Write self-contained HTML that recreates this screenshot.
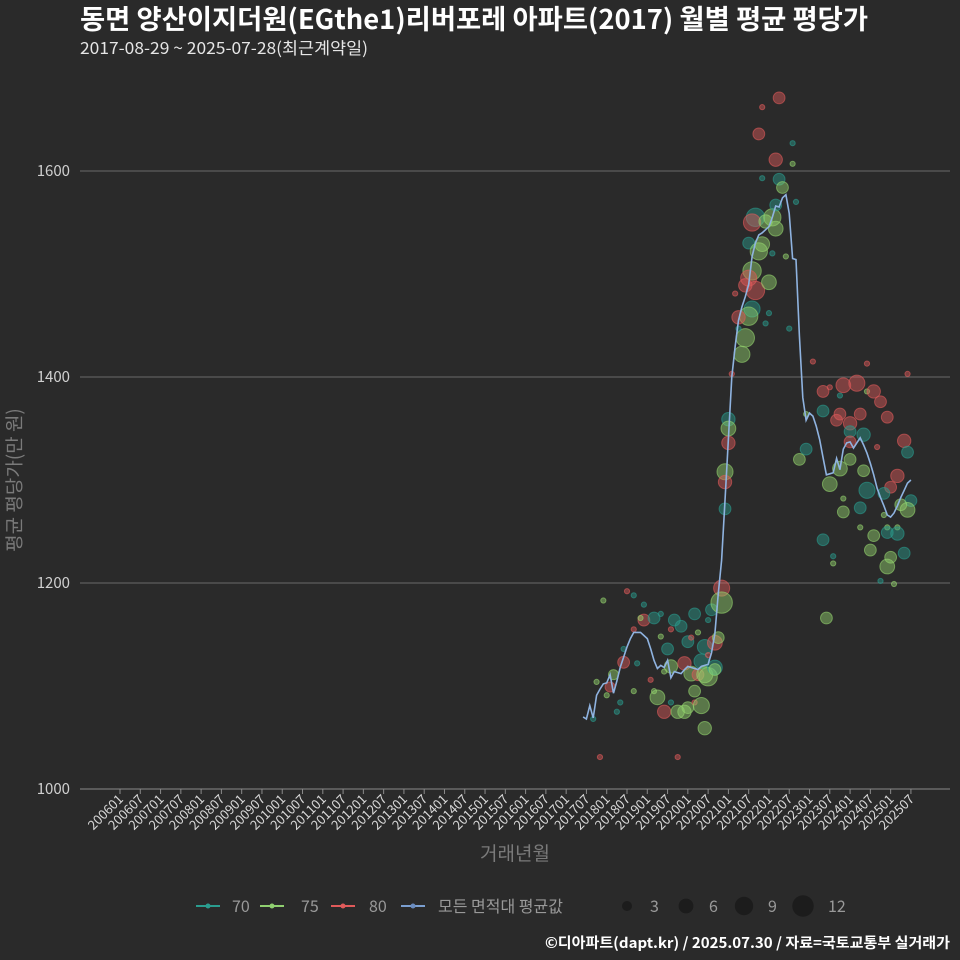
<!DOCTYPE html>
<html><head><meta charset="utf-8"><style>
html,body{margin:0;padding:0;background:#2a2a2a;}
svg{display:block;font-family:"Noto Sans CJK KR","Liberation Sans",sans-serif;}
</style></head><body>
<svg id="chart" width="960" height="960" viewBox="0 0 960 960">
<rect width="960" height="960" fill="#2a2a2a"/>
<text x="80" y="29" fill="#ffffff" font-size="27" font-weight="bold" textLength="788" lengthAdjust="spacingAndGlyphs">동면 양산이지더원(EGthe1)리버포레 아파트(2017) 월별 평균 평당가</text>
<text x="80" y="54" fill="#e6e6e6" font-size="16.5" textLength="288" lengthAdjust="spacingAndGlyphs">2017-08-29 ~ 2025-07-28(최근계약일)</text>
<g id="grid"></g>
<g id="xaxis"></g>
<g id="bubbles"></g>
<path id="avgline" fill="none" stroke="#8fb3e0" stroke-width="1.6"/>
<text x="0" y="0" transform="translate(21,480) rotate(-90)" text-anchor="middle" fill="#7a7a7a" font-size="19" text-rendering="geometricPrecision">평균 평당가(만 원)</text>
<text x="515" y="860" text-anchor="middle" fill="#7a7a7a" font-size="19">거래년월</text>
<g>
<g><line x1="196" y1="906" x2="220" y2="906" stroke="#2a9d8f" stroke-width="2"/><circle cx="208" cy="906" r="2.5" fill="#2a9d8f"/><text x="232" y="912" fill="#999" font-size="16">70</text></g>
<g><line x1="260" y1="906" x2="284" y2="906" stroke="#90d070" stroke-width="2"/><circle cx="272" cy="906" r="2.5" fill="#90d070"/><text x="301" y="912" fill="#999" font-size="16">75</text></g>
<g><line x1="331" y1="906" x2="355" y2="906" stroke="#e05a5a" stroke-width="2"/><circle cx="343" cy="906" r="2.5" fill="#e05a5a"/><text x="369" y="912" fill="#999" font-size="16">80</text></g>
<g><line x1="401" y1="906" x2="425" y2="906" stroke="#7b9fd0" stroke-width="2"/><circle cx="413" cy="906" r="2.5" fill="#6a8cc0"/><text x="438" y="912" fill="#999" font-size="16">모든 면적대 평균값</text></g>
<g><circle cx="627" cy="906" r="5" fill="#1c1c1c"/><text x="650" y="912" fill="#999" font-size="16">3</text></g>
<g><circle cx="686" cy="906" r="7.4" fill="#1c1c1c"/><text x="709" y="912" fill="#999" font-size="16">6</text></g>
<g><circle cx="744" cy="906" r="9.2" fill="#1c1c1c"/><text x="768" y="912" fill="#999" font-size="16">9</text></g>
<g><circle cx="803" cy="906" r="10.7" fill="#1c1c1c"/><text x="828" y="912" fill="#999" font-size="16">12</text></g>
</g>
<text x="950" y="948" text-anchor="end" fill="#ffffff" font-size="14.5" font-weight="bold" textLength="405" lengthAdjust="spacingAndGlyphs">©디아파트(dapt.kr) / 2025.07.30 / 자료=국토교통부 실거래가</text>
</svg>
<script>
const yTicks = [1000, 1200, 1400, 1600];
const xTickStart = 0; // months since 2006-01
const avgStartMonth = 137;
const avgValues = [1070,1068,1081,1069,1091,1097,1102,1103,1111,1093,1105,1118,1128,1138,1146,1152,1152,1152,1149,1146,1136,1125,1117,1120,1118,1125,1108,1114,1113,1112,1116,1119,1118,1117,1116,1119,1120,1121,1132,1151,1190,1222,1280,1340,1400,1430,1455,1468,1478,1490,1517,1530,1538,1540,1543,1546,1555,1566,1565,1574,1577,1559,1515,1514,1440,1380,1358,1365,1362,1352,1339,1322,1305,1306,1307,1321,1310,1330,1336,1337,1331,1336,1341,1334,1326,1316,1305,1292,1283,1275,1266,1264,1268,1275,1283,1290,1297,1300];
const bubbleMonths = [
142,143,141,140,145,146,144,147,148,149,
149,150,152,152,152,153,155,155,154,158,
160,160,157,158,159,162,161,163,163,164,
163,161,165,165,166,167,167,168,168,169,
170,171,169,170,170,172,173,172,171,173,
174,174,175,173,174,176,177,176,176,178,
178,209,211,227,225,229,195,190,189,199,
194,199,190,195,196,200,188,187,193,191,
194,194,186,190,189,187,186,188,192,185,
193,197,182,187,186,183,192,191,198,185,
184,183,181,205,221,233,180,180,180,179,
179,179,203,208,208,214,218,210,221,223,
225,227,213,212,219,216,216,220,216,213,
232,233,224,203,201,213,216,220,210,221,
230,228,226,234,233,231,219,214,214,226,
219,227,230,227,230,223,208,222,228,232,
211];
const bubbleValues = [
1031,1183,1104,1068,1099,1111,1091,1075,1084,1123,
1136,1192,1188,1155,1095,1122,1179,1164,1166,1166,
1170,1148,1106,1095,1089,1136,1075,1155,1084,1164,
1119,1114,1075,1031,1158,1122,1075,1079,1143,1147,
1170,1152,1112,1095,1084,1081,1138,1124,1111,1111,
1109,1164,1174,1059,1130,1142,1147,1118,1116,1195,
1181,1166,1219,1216,1202,1199,1671,1662,1636,1627,
1611,1607,1593,1592,1584,1570,1555,1550,1555,1551,
1544,1567,1530,1529,1522,1503,1496,1484,1492,1489,
1520,1517,1481,1466,1459,1458,1462,1452,1447,1438,
1422,1447,1403,1415,1413,1403,1359,1350,1336,1308,
1298,1272,1364,1367,1386,1392,1394,1390,1386,1386,
1376,1361,1364,1358,1364,1355,1347,1344,1337,1382,
1338,1327,1332,1330,1320,1311,1320,1309,1296,1290,
1304,1293,1287,1280,1271,1276,1273,1269,1282,1266,
1254,1254,1254,1249,1248,1246,1242,1232,1225,1229,
1226];
const bubbleCounts = [
1,1,1,1,3,3,1,1,1,4,
1,1,1,1,1,1,1,4,1,4,
1,1,1,1,6,4,5,1,1,4,
5,1,5,1,4,5,5,4,4,1,
4,1,6,4,1,7,6,6,4,7,
9,1,4,5,1,6,4,6,4,7,
12,4,1,6,1,1,4,1,4,1,
5,1,1,4,4,1,9,8,8,5,
6,4,4,6,8,9,7,9,6,5,
1,1,1,7,9,5,1,1,1,9,
7,1,1,1,1,1,5,6,5,7,
5,4,1,4,4,6,7,1,1,5,
4,4,4,4,4,5,4,5,4,1,
5,4,1,4,4,6,4,4,6,7,
5,4,4,4,6,4,4,4,1,1,
1,1,1,4,5,4,4,4,4,4,
1];
const bubbleTypes = [
80,75,75,70,80,75,75,70,70,80,
70,80,70,80,75,70,70,80,75,70,
70,75,80,75,75,70,80,80,70,70,
75,75,75,80,70,80,75,75,70,80,
70,75,75,75,80,75,70,70,80,75,
75,70,70,75,80,80,75,70,75,80,
75,75,75,75,70,75,80,80,80,70,
80,75,70,70,75,70,70,80,75,75,
75,70,70,75,75,75,80,80,75,80,
70,75,80,70,75,80,70,70,70,75,
75,70,80,80,80,80,70,75,80,75,
80,70,75,70,80,80,80,80,75,80,
80,80,80,80,80,80,70,70,80,70,
80,70,80,70,75,75,75,75,75,70,
80,80,70,70,75,75,70,75,75,75,
75,75,75,70,70,75,70,75,75,70,
70];
const colors = {70:'#2a9d8f', 75:'#95d46e', 80:'#e05a5a'};
const NS = 'http://www.w3.org/2000/svg';
const X0 = 120, PXM = 3.38, Y0 = 789, PXV = 1.03;
function xScale(m){ return X0 + PXM * m; }
function yScale(v){ return Y0 - (v - 1000) * PXV; }
function rScale(n){ return 3.3 * Math.sqrt(n) - 0.7; }
const grid = document.getElementById('grid');
yTicks.forEach(function(t){
  const y = yScale(t);
  const l = document.createElementNS(NS,'line');
  l.setAttribute('x1',80); l.setAttribute('x2',950); l.setAttribute('y1',y); l.setAttribute('y2',y);
  l.setAttribute('stroke', t === 1000 ? '#8a8a8a' : '#6a6a6a'); l.setAttribute('stroke-width',1);
  
  
  grid.appendChild(l);
  const tx = document.createElementNS(NS,'text');
  tx.setAttribute('x',70); tx.setAttribute('y',y+5); tx.setAttribute('text-anchor','end');
  tx.setAttribute('fill','#d0d0d0'); tx.setAttribute('font-size','15');
  tx.textContent = t;
  
  
  grid.appendChild(tx);
});
const xaxis = document.getElementById('xaxis');
for (let k = 0; k <= 39; k++){
  const m = xTickStart + k*6;
  const yr = 2006 + Math.floor(m/12), mo = (m%12)+1;
  const lbl = '' + yr + (mo<10?'0':'') + mo;
  const x = xScale(m);
  const tk = document.createElementNS(NS,'line');
  tk.setAttribute('x1',x); tk.setAttribute('x2',x); tk.setAttribute('y1',789); tk.setAttribute('y2',794);
  tk.setAttribute('stroke','#8a8a8a');
  
  
  xaxis.appendChild(tk);
  const tx = document.createElementNS(NS,'text');
  tx.setAttribute('transform','translate('+(x+4)+',800) rotate(-45)');
  tx.setAttribute('text-anchor','end'); tx.setAttribute('fill','#d8d8d8'); tx.setAttribute('font-size','13');
  tx.textContent = lbl;
  
  
  xaxis.appendChild(tx);
}
const bg = document.getElementById('bubbles');
const nB = Math.min(bubbleMonths.length, bubbleValues.length, bubbleCounts.length, bubbleTypes.length);
for (let i = 0; i < nB; i++){
  const c = document.createElementNS(NS,'circle');
  const col = colors[bubbleTypes[i]] || '#95d46e';
  c.setAttribute('cx', xScale(bubbleMonths[i]));
  c.setAttribute('cy', yScale(bubbleValues[i]));
  c.setAttribute('r', rScale(bubbleCounts[i]));
  c.setAttribute('fill', col); c.setAttribute('fill-opacity', 0.45);
  c.setAttribute('stroke', col); c.setAttribute('stroke-opacity', 0.6);
  
  
  bg.appendChild(c);
}
let d = '';
avgValues.forEach(function(v,i){
  d += (i ? 'L' : 'M') + xScale(avgStartMonth + i).toFixed(1) + ',' + yScale(v).toFixed(1);
});
document.getElementById('avgline').setAttribute('d', d);
</script>
</body></html>
